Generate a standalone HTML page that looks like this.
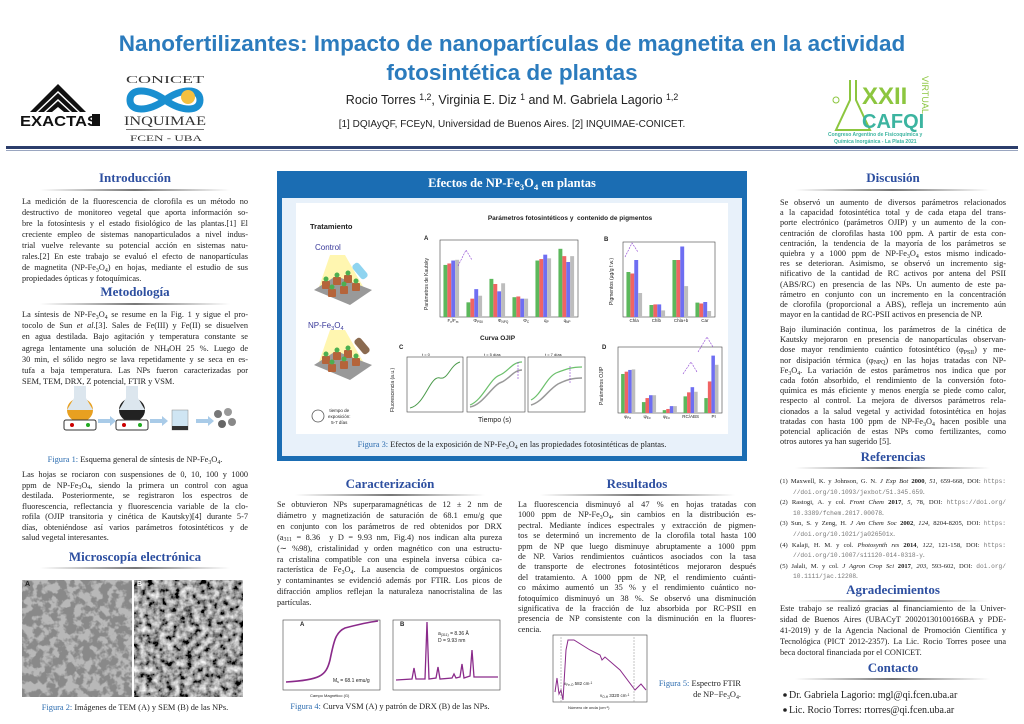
<!DOCTYPE html>
<html lang="es"><head><meta charset="utf-8">
<style>
*{margin:0;padding:0;box-sizing:border-box}
body{width:1024px;height:724px;background:#fff;position:relative;overflow:hidden;font-family:"Liberation Serif",serif;color:#222}
.a{position:absolute}
.p{position:absolute;font-size:8.3px;color:#222}
.p div{text-align:justify;text-align-last:justify;white-space:normal}
.p div.e{text-align-last:left}
.h{position:absolute;font-family:"Liberation Serif",serif;font-weight:bold;font-size:13px;color:#2d4fa0;text-align:center}
.r{position:absolute;height:2px;background:linear-gradient(90deg,rgba(120,120,120,0),#777 50%,rgba(120,120,120,0))}
.cap{position:absolute;font-size:8.4px;text-align:center;color:#222}
.cap b{font-weight:normal;color:#2d6db0}
.s{font-family:"Liberation Sans",sans-serif}
sub,sup{font-size:70%;line-height:0;vertical-align:baseline;position:relative}
sub{top:0.3em}sup{top:-0.45em}
.ref{font-size:6.6px}
.ref div{padding-left:13px}
.ref div.f{padding-left:0}
.mono{font-family:"Liberation Mono",monospace;color:#777;font-size:6.2px}
</style></head><body>

<svg class="a" style="left:0;top:0" width="1024" height="724" viewBox="0 0 1024 724">
<defs>
<filter id="tem" x="0" y="0" width="1" height="1"><feTurbulence type="fractalNoise" baseFrequency="0.12" numOctaves="3" seed="3"/><feColorMatrix values="0 0 0 0 0.25  0 0 0 0 0.25  0 0 0 0 0.25  0 0 0 -6 3.6"/></filter>
<filter id="sem" x="0" y="0" width="1" height="1"><feTurbulence type="fractalNoise" baseFrequency="0.15" numOctaves="3" seed="7"/><feColorMatrix values="0 0 0 1.6 -0.45  0 0 0 1.6 -0.45  0 0 0 1.6 -0.45  0 0 0 0 1"/></filter>
<clipPath id="c1"><rect x="22" y="580" width="110" height="117"/></clipPath>
<clipPath id="c2"><rect x="134" y="580" width="109" height="117"/></clipPath>
</defs>
<rect x="6" y="146" width="1012" height="3" fill="#2b3d6b"/>
<rect x="6" y="150" width="1012" height="1" fill="#9aa6c0"/>
<g fill="#111">
<path d="M30 112 L58 84 L86 112 L80 112 L58 91 L36 112Z"/>
<path d="M38 112 L58 93 L78 112 L72 112 L58 99 L44 112Z"/>
<path d="M46 112 L58 101 L70 112 L64 112 L58 107 L52 112Z"/>
</g>
<text x="20" y="126" font-family="Liberation Sans" font-weight="bold" font-size="15" fill="#111" textLength="78" lengthAdjust="spacingAndGlyphs">EXACTAS</text>
<rect x="92" y="114" width="8" height="12" fill="#111"/>
<text x="126" y="83" font-family="Liberation Serif" font-size="11" fill="#333" textLength="78" lengthAdjust="spacingAndGlyphs">CONICET</text>
<path d="M130 100 C130 88,148 88,165 100 C182 112,200 112,200 100 C200 88,182 88,165 100 C148 112,130 112,130 100Z" fill="none" stroke="#1a8fd0" stroke-width="7"/>
<circle cx="188" cy="97" r="7" fill="#f5c040"/>
<text x="124" y="125" font-family="Liberation Serif" font-size="13" fill="#333" textLength="82" lengthAdjust="spacingAndGlyphs">INQUIMAE</text>
<rect x="126" y="129" width="78" height="0.8" fill="#555"/>
<text x="130" y="141" font-family="Liberation Serif" font-size="8" fill="#333" textLength="72" lengthAdjust="spacingAndGlyphs">FCEN - UBA</text>
<path d="M850 80 L850 100 L836 130 L870 130 L856 100 L856 80" fill="none" stroke="#8cc63f" stroke-width="2"/>
<circle cx="836" cy="100" r="3" fill="none" stroke="#8cc63f"/>
<text x="862" y="104" font-family="Liberation Sans" font-weight="bold" font-size="24" fill="#8cc63f">XXII</text>
<text x="862" y="128" font-family="Liberation Sans" font-weight="bold" font-size="20" fill="#3cb4a0">CAFQI</text>
<text x="0" y="0" font-family="Liberation Sans" font-size="9" fill="#8cc63f" transform="translate(922,76) rotate(90)">VIRTUAL</text>
<text x="828" y="136" font-family="Liberation Sans" font-weight="bold" font-size="5" fill="#3cb4a0">Congreso Argentino de Fisicoquímica y</text>
<text x="834" y="143" font-family="Liberation Sans" font-weight="bold" font-size="5" fill="#3cb4a0">Química Inorgánica - La Plata 2021</text>

<rect x="277" y="171" width="470" height="290" fill="#1b6db3"/>
<rect x="282" y="198" width="460" height="258" fill="#e8f1fa"/>
<rect x="296" y="203" width="432" height="231" fill="#fff"/>

<path d="M330 255 L318 290 L365 290 L345 255Z" fill="#fff6b0"/>
<path d="M330 330 L318 365 L365 365 L345 330Z" fill="#fff6b0"/>
<path d="M314 290 L350 305 L372 290 L336 276Z" fill="#999"/>
<path d="M314 365 L350 380 L372 365 L336 351Z" fill="#999"/>
<g fill="#b5643a">
<rect x="322" y="281" width="8" height="8" rx="1"/><rect x="333" y="277" width="8" height="8" rx="1"/><rect x="344" y="275" width="8" height="8" rx="1"/>
<rect x="328" y="289" width="8" height="8" rx="1"/><rect x="340" y="286" width="8" height="8" rx="1"/><rect x="352" y="283" width="8" height="8" rx="1"/>
<rect x="322" y="356" width="8" height="8" rx="1"/><rect x="333" y="352" width="8" height="8" rx="1"/><rect x="344" y="350" width="8" height="8" rx="1"/>
<rect x="328" y="364" width="8" height="8" rx="1"/><rect x="340" y="361" width="8" height="8" rx="1"/><rect x="352" y="358" width="8" height="8" rx="1"/>
</g>
<g fill="#4caf50"><circle cx="326" cy="279" r="2.5"/><circle cx="337" cy="275" r="2.5"/><circle cx="348" cy="273" r="2.5"/><circle cx="332" cy="287" r="2.5"/><circle cx="344" cy="284" r="2.5"/><circle cx="356" cy="281" r="2.5"/>
<circle cx="326" cy="354" r="2.5"/><circle cx="337" cy="350" r="2.5"/><circle cx="348" cy="348" r="2.5"/><circle cx="332" cy="362" r="2.5"/><circle cx="344" cy="359" r="2.5"/><circle cx="356" cy="356" r="2.5"/></g>
<rect x="356" y="262" width="8" height="18" rx="3" fill="#8fd4f0" transform="rotate(-40 360 271)"/>
<rect x="358" y="337" width="8" height="18" rx="3" fill="#8a6a50" transform="rotate(-40 362 346)"/>
<circle cx="318" cy="416" r="6" fill="#fff" stroke="#555" stroke-width="0.8"/>

<rect x="440" y="240" width="138" height="77" fill="none" stroke="#444" stroke-width="0.6"/>
<rect x="623" y="242" width="92" height="75" fill="none" stroke="#444" stroke-width="0.6"/>
<rect x="618" y="347" width="104" height="66" fill="none" stroke="#444" stroke-width="0.6"/>
<g id="bars"></g>
<g fill="none" stroke-width="0.6">
<rect x="407" y="357" width="56" height="55" stroke="#444"/>
<rect x="467" y="357" width="58" height="55" stroke="#444"/>
<rect x="528" y="357" width="57" height="55" stroke="#444"/>
<path d="M410 408 C425 405,430 375,440 378 C448 380,450 365,460 362" stroke="#4a9a4a" stroke-width="1"/>
<path d="M470 405 C483 400,490 378,500 375 C508 372,512 362,522 362" stroke="#6cc06c" stroke-width="1.2"/>
<path d="M470 407 C483 405,492 385,502 382 C510 378,514 370,522 370" stroke="#999" stroke-width="1.5"/>
<path d="M531 400 C541 395,546 378,556 373 C566 369,572 367,582 367" stroke="#6cc06c" stroke-width="1.2"/>
<path d="M531 405 C542 402,548 390,558 384 C566 380,572 378,582 378" stroke="#999" stroke-width="1.5"/>
<path d="M518 362 L518 380 M570 366 L570 384" stroke="#8a3fd1" stroke-dasharray="2 1"/>
<path d="M458 266 L466 250 L472 260" stroke="#8a3fd1" stroke-dasharray="2 1"/>
<path d="M625 257 L632 243 L638 252" stroke="#8a3fd1" stroke-dasharray="2 1"/>
<path d="M683 374 L691 362 L697 372 M698 352 L707 337 L713 347" stroke="#8a3fd1" stroke-dasharray="2 1"/>
</g>

<ellipse cx="80" cy="410" rx="13" ry="12" fill="#e8a020"/>
<path d="M74 386 L86 386 L86 398 L93 410 L67 410 L74 398Z" fill="#dce6ee"/>
<rect x="64" y="420" width="32" height="10" rx="2" fill="#fff" stroke="#333"/>
<circle cx="72" cy="425" r="2" fill="#c00"/><circle cx="88" cy="425" r="2" fill="#2a2"/>
<ellipse cx="132" cy="410" rx="13" ry="12" fill="#222"/>
<path d="M126 386 L138 386 L138 398 L145 410 L119 410 L126 398Z" fill="#dce6ee"/>
<rect x="116" y="420" width="32" height="10" rx="2" fill="#fff" stroke="#333"/>
<circle cx="124" cy="425" r="2" fill="#c00"/><circle cx="140" cy="425" r="2" fill="#2a2"/>
<path d="M98 419 L110 419 L110 416 L116 421 L110 426 L110 423 L98 423Z" fill="#a9cbe8"/>
<path d="M150 419 L162 419 L162 416 L168 421 L162 426 L162 423 L150 423Z" fill="#a9cbe8"/>
<path d="M196 419 L208 419 L208 416 L214 421 L208 426 L208 423 L196 423Z" fill="#a9cbe8"/>
<rect x="172" y="410" width="16" height="20" fill="#cfe5f3" stroke="#888" stroke-width="0.5"/>
<rect x="172" y="426" width="16" height="4" fill="#333"/>
<circle cx="218" cy="414" r="4" fill="#777"/><circle cx="228" cy="412" r="4" fill="#999"/><circle cx="222" cy="424" r="4" fill="#666"/><circle cx="232" cy="422" r="4" fill="#888"/>

<g clip-path="url(#c1)">
<rect x="22" y="580" width="110" height="117" fill="#b8b8b8"/>
<rect x="22" y="580" width="110" height="117" filter="url(#tem)"/>
</g>
<g clip-path="url(#c2)">
<rect x="134" y="580" width="109" height="117" fill="#444"/>
<rect x="134" y="580" width="109" height="117" filter="url(#sem)"/>
</g>

<rect x="283" y="620" width="97" height="70" fill="none" stroke="#444" stroke-width="0.6"/>
<path d="M286 682 C320 680,326 676,330 660 C334 640,336 632,345 628 C360 624,370 622,378 621" fill="none" stroke="#8a2a8a" stroke-width="1.6"/>
<rect x="393" y="620" width="107" height="70" fill="none" stroke="#444" stroke-width="0.6"/>
<path d="M396 680 L412 679 L414 668 L416 679 L425 679 L427 622 L429 679 L436 678 L438 667 L440 679 L452 678 L454 674 L456 678 L460 677 L462 664 L464 678 L470 676 L472 650 L474 677 L498 677" fill="none" stroke="#8a2a8a" stroke-width="1.3"/>
<rect x="553" y="635" width="94" height="67" fill="none" stroke="#444" stroke-width="0.6"/>
<path d="M555 692 L557 678 L559 694 L561 690 L563 700 L566 650 L568 640 L574 640 L590 650 L600 655 L602 660 L605 657 L620 670 L635 690 L641 684 L646 690" fill="none" stroke="#8a2a8a" stroke-width="1"/>
<path d="M561 637 L561 702 M634 637 L634 702" stroke="#888" stroke-width="0.5" stroke-dasharray="2 1"/>

<circle cx="785" cy="695" r="1.8" fill="#222"/><circle cx="785" cy="710" r="1.8" fill="#222"/>
</svg>

<!-- Header -->
<div class="a s" style="left:0;width:1024px;top:29px;text-align:center;font-size:22.5px;font-weight:bold;color:#2b7bbd;line-height:29px">Nanofertilizantes: Impacto de nanopartículas de magnetita en la actividad<br>fotosintética de plantas</div>
<div class="a s" style="left:0;width:1024px;top:93px;text-align:center;font-size:12.5px;color:#222">Rocio Torres <sup>1,2</sup>, Virginia E. Diz <sup>1</sup> and M. Gabriela Lagorio <sup>1,2</sup></div>
<div class="a s" style="left:0;width:1024px;top:119px;text-align:center;font-size:10px;color:#222">[1] DQIAyQF, FCEyN, Universidad de Buenos Aires. [2] INQUIMAE-CONICET.</div>

<!-- Left column -->
<div class="h" style="left:22px;width:226px;top:170px">Introducción</div>
<div class="r" style="left:40px;width:190px;top:189px"></div>
<div class="p" style="left:22px;width:226px;top:196px;line-height:11px">
<div>La medición de la fluorescencia de clorofila es un método no</div>
<div>destructivo de monitoreo vegetal que aporta información so-</div>
<div>bre la fotosíntesis y el estado fisiológico de las plantas.[1] El</div>
<div>creciente empleo de sistemas nanoparticulados a nivel indus-</div>
<div>trial vuelve relevante su potencial acción en sistemas natu-</div>
<div>rales.[2] En este trabajo se evaluó el efecto de nanopartículas</div>
<div>de magnetita (NP-Fe<sub>3</sub>O<sub>4</sub>) en hojas, mediante el estudio de sus</div>
<div class="e">propiedades ópticas y fotoquímicas.</div>
</div>
<div class="h" style="left:22px;width:226px;top:284px">Metodología</div>
<div class="r" style="left:40px;width:190px;top:303px"></div>
<div class="p" style="left:22px;width:226px;top:309px;line-height:11.2px">
<div>La síntesis de NP-Fe<sub>3</sub>O<sub>4</sub> se resume en la Fig. 1 y sigue el pro-</div>
<div>tocolo de Sun <i>et al.</i>[3]. Sales de Fe(III) y Fe(II) se disuelven</div>
<div>en agua destilada. Bajo agitación y temperatura constante se</div>
<div>agrega lentamente una solución de NH<sub>4</sub>OH 25 %. Luego de</div>
<div>30 min, el sólido negro se lava repetidamente y se seca en es-</div>
<div>tufa a baja temperatura. Las NPs fueron caracterizadas por</div>
<div class="e">SEM, TEM, DRX, Z potencial, FTIR y VSM.</div>
</div>
<div class="cap" style="left:22px;width:226px;top:455px"><b>Figura 1:</b> Esquema general de síntesis de NP-Fe<sub>3</sub>O<sub>4</sub>.</div>
<div class="p" style="left:22px;width:226px;top:470px;line-height:10.5px">
<div>Las hojas se rociaron con suspensiones de 0, 10, 100 y 1000</div>
<div>ppm de NP-Fe<sub>3</sub>O<sub>4</sub>, siendo la primera un control con agua</div>
<div>destilada. Posteriormente, se registraron los espectros de</div>
<div>fluorescencia, reflectancia y fluorescencia variable de la clo-</div>
<div>rofila (OJIP transitoria y cinética de Kautsky)[4] durante 5-7</div>
<div>días, obteniéndose así varios parámetros fotosintéticos y de</div>
<div class="e">salud vegetal interesantes.</div>
</div>
<div class="h" style="left:22px;width:226px;top:549px">Microscopía electrónica</div>
<div class="r" style="left:40px;width:190px;top:567px"></div>
<div class="a s" style="left:25px;top:581px;font-size:7px;font-weight:bold">A</div>
<div class="a s" style="left:137px;top:581px;font-size:7px;font-weight:bold;color:#fff">B</div>
<div class="cap" style="left:22px;width:226px;top:703px"><b>Figura 2:</b> Imágenes de TEM (A) y SEM (B) de las NPs.</div>

<!-- Middle box texts -->
<div class="a" style="left:277px;width:470px;top:176px;text-align:center;font-size:12.5px;font-weight:bold;color:#fff">Efectos de NP-Fe<sub>3</sub>O<sub>4</sub> en plantas</div>
<div class="a s" style="left:440px;width:260px;top:215px;text-align:center;font-size:6.5px;font-weight:bold">Parámetros fotosintéticos y &nbsp;contenido de pigmentos</div>
<div class="a s" style="left:310px;top:222px;font-size:7.5px;font-weight:bold">Tratamiento</div>
<div class="a s" style="left:315px;top:243px;font-size:8px;color:#3a3a9a">Control</div>
<div class="a s" style="left:308px;top:321px;font-size:8px;color:#3a3a9a">NP-Fe<sub>3</sub>O<sub>4</sub></div>
<div class="a s" style="left:328px;top:408px;font-size:4.5px;text-align:center;line-height:6px">tiempo de<br>exposición:<br>5-7 días</div>
<div class="a s" style="left:480px;top:335px;font-size:6.5px;font-weight:bold">Curva OJIP</div>
<div class="a s" style="left:478px;top:417px;font-size:7px">Tiempo (s)</div>
<div class="a s" style="left:424px;top:310px;font-size:5px;transform:rotate(-90deg);transform-origin:0 0">Parámetros de Kautsky</div>
<div class="a s" style="left:609px;top:305px;font-size:5px;transform:rotate(-90deg);transform-origin:0 0">Pigmentos (μg/g f.w.)</div>
<div class="a s" style="left:599px;top:405px;font-size:5px;transform:rotate(-90deg);transform-origin:0 0">Parámetros OJIP</div>
<div class="a s" style="left:390px;top:412px;font-size:5px;transform:rotate(-90deg);transform-origin:0 0">Fluorescencia (a.u.)</div>
<div class="a s" style="left:424px;top:236px;font-size:6px;font-weight:bold">A</div>
<div class="a s" style="left:604px;top:237px;font-size:6px;font-weight:bold">B</div>
<div class="a s" style="left:399px;top:345px;font-size:6px;font-weight:bold">C</div>
<div class="a s" style="left:602px;top:345px;font-size:6px;font-weight:bold">D</div>
<div class="a s" style="left:440px;top:318px;width:138px;font-size:4.5px;display:flex;justify-content:space-around"><span>F<sub>v</sub>/F<sub>m</sub></span><span>Φ<sub>PSII</sub></span><span>Φ<sub>NPQ</sub></span><span>Φ<sub>C</sub></span><span>q<sub>P</sub></span><span>q<sub>NP</sub></span></div>
<div class="a s" style="left:623px;top:318px;width:92px;font-size:4.5px;display:flex;justify-content:space-around"><span>Chla</span><span>Chlb</span><span>Chla+b</span><span>Car</span></div>
<div class="a s" style="left:618px;top:414px;width:104px;font-size:4.5px;display:flex;justify-content:space-around"><span>φ<sub>Po</sub></span><span>ψ<sub>Eo</sub></span><span>φ<sub>Eo</sub></span><span>RC/ABS</span><span>PI</span></div>
<div class="a s" style="left:422px;top:352px;font-size:4px">t = 0</div>
<div class="a s" style="left:484px;top:352px;font-size:4px">t = 5 días</div>
<div class="a s" style="left:545px;top:352px;font-size:4px">t = 7 días</div>
<div class="cap" style="left:277px;width:470px;top:440px"><b>Figura 3:</b> Efectos de la exposición de NP-Fe<sub>3</sub>O<sub>4</sub> en las propiedades fotosintéticas de plantas.</div>

<!-- Middle lower -->
<div class="h" style="left:277px;width:226px;top:476px">Caracterización</div>
<div class="r" style="left:295px;width:190px;top:494px"></div>
<div class="p" style="left:277px;width:225px;top:500px;line-height:10.9px">
<div>Se obtuvieron NPs superparamagnéticas de 12 ± 2 nm de</div>
<div>diámetro y magnetización de saturación de 68.1 emu/g que</div>
<div>en conjunto con los parámetros de red obtenidos por DRX</div>
<div>(a<sub>311</sub> = 8.36 &nbsp;y D = 9.93 nm, Fig.4) nos indican alta pureza</div>
<div>(∼ %98), cristalinidad y orden magnético con una estructu-</div>
<div>ra cristalina compatible con una espinela inversa cúbica ca-</div>
<div>racterística de Fe<sub>3</sub>O<sub>4</sub>. La ausencia de compuestos orgánicos</div>
<div>y contaminantes se evidenció además por FTIR. Los picos de</div>
<div>difracción amplios reflejan la naturaleza nanocristalina de las</div>
<div class="e">partículas.</div>
</div>
<div class="a s" style="left:300px;top:622px;font-size:6px;font-weight:bold">A</div>
<div class="a s" style="left:400px;top:622px;font-size:6px;font-weight:bold">B</div>
<div class="a s" style="left:333px;top:678px;font-size:5px">M<sub>s</sub> = 68.1 emu/g</div>
<div class="a s" style="left:438px;top:631px;font-size:5px;line-height:7px">a<sub>(311)</sub> = 8.36 Å<br>D = 9.93 nm</div>
<div class="a s" style="left:310px;top:693px;font-size:4px">Campo Magnético (G)</div>
<div class="cap" style="left:277px;width:226px;top:702px"><b>Figura 4:</b> Curva VSM (A) y patrón de DRX (B) de las NPs.</div>

<div class="h" style="left:518px;width:238px;top:476px">Resultados</div>
<div class="r" style="left:540px;width:195px;top:494px"></div>
<div class="p" style="left:518px;width:238px;top:500px;line-height:10.4px">
<div>La fluorescencia disminuyó al 47 % en hojas tratadas con</div>
<div>1000 ppm de NP-Fe<sub>3</sub>O<sub>4</sub>, sin cambios en la distribución es-</div>
<div>pectral. Mediante índices espectrales y extracción de pigmen-</div>
<div>tos se determinó un incremento de la clorofila total hasta 100</div>
<div>ppm de NP que luego disminuye abruptamente a 1000 ppm</div>
<div>de NP. Varios rendimientos cuánticos asociados con la tasa</div>
<div>de transporte de electrones fotosintéticos mejoraron después</div>
<div>del tratamiento. A 1000 ppm de NP, el rendimiento cuánti-</div>
<div>co máximo aumentó un 35 % y el rendimiento cuántico no-</div>
<div>fotoquímico disminuyó un 38 %. Se observó una disminución</div>
<div>significativa de la fracción de luz absorbida por RC-PSII en</div>
<div>presencia de NP consistente con la disminución en la fluores-</div>
<div class="e">cencia.</div>
</div>
<div class="a s" style="left:564px;top:681px;font-size:4.5px">ν<sub>Fe-O</sub> 582 cm<sup>-1</sup></div>
<div class="a s" style="left:600px;top:693px;font-size:4.5px">ν<sub>O-H</sub> 3320 cm<sup>-1</sup></div>
<div class="a s" style="left:568px;top:705px;font-size:4px">Número de onda (cm<sup>-1</sup>)</div>
<div class="a" style="left:655px;top:678px;font-size:8.4px;line-height:11px;text-align:right;width:86px"><span style="color:#2d6db0">Figura 5:</span> Espectro FTIR de NP−Fe<sub>3</sub>O<sub>4</sub>.</div>

<!-- Right column -->
<div class="h" style="left:780px;width:226px;top:170px">Discusión</div>
<div class="r" style="left:795px;width:195px;top:189px"></div>
<div class="p" style="left:780px;width:226px;top:198px;line-height:10.2px">
<div>Se observó un aumento de diversos parámetros relacionados</div>
<div>a la capacidad fotosintética total y de cada etapa del trans-</div>
<div>porte electrónico (parámetros OJIP) y un aumento de la con-</div>
<div>centración de clorofilas hasta 100 ppm. A partir de esta con-</div>
<div>centración, la tendencia de la mayoría de los parámetros se</div>
<div>quiebra y a 1000 ppm de NP-Fe<sub>3</sub>O<sub>4</sub> estos mismo indicado-</div>
<div>res se deterioran. Asimismo, se observó un incremento sig-</div>
<div>nificativo de la cantidad de RC activos por antena del PSII</div>
<div>(ABS/RC) en presencia de las NPs. Un aumento de este pa-</div>
<div>rámetro en conjunto con un incremento en la concentración</div>
<div>de clorofila (proporcional a ABS), refleja un incremento aún</div>
<div class="e">mayor en la cantidad de RC-PSII activos en presencia de NP.</div>
</div>
<div class="p" style="left:780px;width:226px;top:325px;line-height:10.2px">
<div>Bajo iluminación continua, los parámetros de la cinética de</div>
<div>Kautsky mejoraron en presencia de nanopartículas observan-</div>
<div>dose mayor rendimiento cuántico fotosintético (φ<sub>PSII</sub>) y me-</div>
<div>nor disipación térmica (φ<sub>NPQ</sub>) en las hojas tratadas con NP-</div>
<div>Fe<sub>3</sub>O<sub>4</sub>. La variación de estos parámetros nos indica que por</div>
<div>cada fotón absorbido, el rendimiento de la conversión foto-</div>
<div>química es más eficiente y menos energía se piede como calor,</div>
<div>respecto al control. La mejora de diversos parámetros rela-</div>
<div>cionados a la salud vegetal y actividad fotosintética en hojas</div>
<div>tratadas con hasta 100 ppm de NP-Fe<sub>3</sub>O<sub>4</sub> hacen posible una</div>
<div>potencial aplicación de estas NPs como fertilizantes, como</div>
<div class="e">otros autores ya han sugerido [5].</div>
</div>
<div class="h" style="left:780px;width:226px;top:449px">Referencias</div>
<div class="r" style="left:795px;width:195px;top:467px"></div>
<div class="p ref" style="left:780px;width:226px;top:477px;line-height:10.6px">
<div class="f">(1) Maxwell, K. y Johnson, G. N. <i>J Exp Bot</i> <b>2000</b>, <i>51</i>, 659-668, DOI: <span class="mono">https:</span></div>
<div class="e"><span class="mono">//doi.org/10.1093/jexbot/51.345.659</span>.</div>
<div class="f">(2) Rastogi, A. y col. <i>Front Chem</i> <b>2017</b>, <i>5</i>, 78, DOI: <span class="mono">https://doi.org/</span></div>
<div class="e"><span class="mono">10.3389/fchem.2017.00078</span>.</div>
<div class="f">(3) Sun, S. y Zeng, H. <i>J Am Chem Soc</i> <b>2002</b>, <i>124</i>, 8204-8205, DOI: <span class="mono">https:</span></div>
<div class="e"><span class="mono">//doi.org/10.1021/ja026501x</span>.</div>
<div class="f">(4) Kalaji, H. M. y col. <i>Photosynth res</i> <b>2014</b>, <i>122</i>, 121-158, DOI: <span class="mono">https:</span></div>
<div class="e"><span class="mono">//doi.org/10.1007/s11120-014-0318-y</span>.</div>
<div class="f">(5) Jalali, M. y col. <i>J Agron Crop Sci</i> <b>2017</b>, <i>203</i>, 593-602, DOI: <span class="mono">doi.org/</span></div>
<div class="e"><span class="mono">10.1111/jac.12208</span>.</div>
</div>
<div class="h" style="left:780px;width:226px;top:582px">Agradecimientos</div>
<div class="r" style="left:795px;width:195px;top:600px"></div>
<div class="p" style="left:780px;width:226px;top:603px;line-height:11px">
<div>Este trabajo se realizó gracias al financiamiento de la Univer-</div>
<div>sidad de Buenos Aires (UBACyT 20020130100166BA y PDE-</div>
<div>41-2019) y de la Agencia Nacional de Promoción Científica y</div>
<div>Tecnológica (PICT 2012-2357). La Lic. Rocio Torres posee una</div>
<div class="e">beca doctoral financiada por el CONICET.</div>
</div>
<div class="h" style="left:780px;width:226px;top:660px">Contacto</div>
<div class="r" style="left:795px;width:195px;top:678px"></div>
<div class="a" style="left:789px;top:688px;font-size:10px;line-height:15px">Dr. Gabriela Lagorio: mgl@qi.fcen.uba.ar<br>Lic. Rocio Torres: rtorres@qi.fcen.uba.ar</div>

<script>
(function(){
var g=document.getElementById('bars'),ns='http://www.w3.org/2000/svg',C=['#5cb85c','#f06464','#6e6ef2','#bdbdbd'];
function draw(x0,y0,w,h,max,data){
 var gw=w/data.length,bw=gw*0.17;
 data.forEach(function(d,i){d.forEach(function(v,j){
  var r=document.createElementNS(ns,'rect');var bh=v/max*h;
  r.setAttribute('x',x0+i*gw+gw*0.15+j*bw);r.setAttribute('y',y0+h-bh);
  r.setAttribute('width',bw);r.setAttribute('height',bh);r.setAttribute('fill',C[j]);g.appendChild(r);});});
}
draw(440,240,138,77,1.05,[[.71,.73,.77,.78],[.2,.25,.38,.29],[.52,.45,.35,.46],[.27,.28,.25,.25],[.77,.79,.85,.8],[.93,.83,.75,.83]]);
draw(623,242,92,75,250,[[150,145,190,80],[40,42,42,22],[190,190,235,103],[48,45,50,20]]);
draw(618,347,104,66,1.15,[[.68,.72,.75,.76],[.19,.26,.31,.31],[.05,.07,.12,.12],[.29,.36,.45,.37],[.26,.55,1,.84]]);
})();
</script>
</body></html>
